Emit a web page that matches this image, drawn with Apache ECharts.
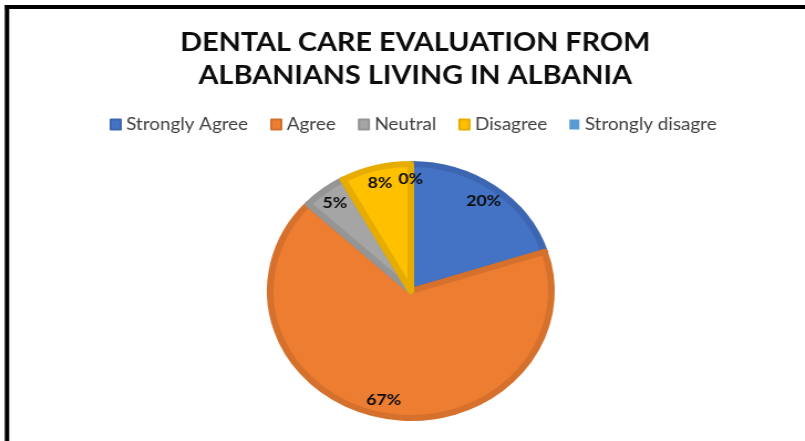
<!DOCTYPE html>
<html>
<head>
<meta charset="utf-8">
<script src="https://cdn.jsdelivr.net/npm/echarts@6/dist/echarts.min.js"></script>
<style>
  html, body { margin: 0; padding: 0; background: #fff; overflow: hidden; }
  #wrap { width: 805px; height: 441px; overflow: hidden; position: relative; }
  #chart { width: 727px; height: 441px; transform: scaleX(1.1073); transform-origin: 0 0; }
</style>
</head>
<body>
<div id="wrap"><div id="chart"></div></div>
<script>
// ---- data ----
const titleLines = ['DENTAL CARE EVALUATION FROM', 'ALBANIANS LIVING IN ALBANIA'];
const categories = ['Strongly Agree', 'Agree', 'Neutral', 'Disagree', 'Strongly disagre'];
const percents = [20, 67, 5, 8, 0];
const fillColors = ['#4472C4', '#ED7D31', '#A5A5A5', '#FFC000', '#5B9BD5'];
const edgeColors = ['#3C66B1', '#D5712C', '#959595', '#E6AD00', '#5290C8'];

const chart = echarts.init(document.getElementById('chart'), null, { renderer: 'canvas' });

const pieData = categories.map((name, i) => ({
  name: name,
  value: percents[i],
  itemStyle: {
    color: fillColors[i],
    borderColor: edgeColors[i],
    borderWidth: percents[i] > 0 ? 6 : 0
  }
}));
const labelData = categories.map((name, i) => ({ name: name, value: percents[i] }));

const cx = 371, cy = 291, R = 127;

chart.setOption({
  backgroundColor: '#ffffff',
  animation: false,
  title: {
    text: titleLines.join('\n'),
    left: 370,
    top: 21,
    textAlign: 'center',
    textStyle: {
      fontFamily: 'Lato',
      fontWeight: 'bold',
      fontSize: 26,
      lineHeight: 33,
      color: '#0d0d0d'
    }
  },
  legend: {
    data: categories,
    left: 94,
    top: 111,
    icon: 'rect',
    itemWidth: 9,
    itemHeight: 10,
    itemGap: 20,
    textStyle: { fontFamily: 'Lato', fontSize: 17, color: '#404040' },
    selectedMode: false
  },
  graphic: [
    { type: 'line', shape: { x1: 4.5, y1: 7, x2: 740, y2: 7 }, style: { stroke: '#000', lineWidth: 4 } },
    { type: 'line', shape: { x1: 6.3, y1: 5, x2: 6.3, y2: 445 }, style: { stroke: '#000', lineWidth: 4 } }
  ],
  series: [
    {
      type: 'pie',
      center: [cx, cy],
      radius: [0, R],
      startAngle: 90,
      clockwise: true,
      avoidLabelOverlap: false,
      label: { show: false },
      labelLine: { show: false },
      emphasis: { disabled: true },
      silent: true,
      data: pieData
    },
    {
      type: 'pie',
      center: [cx, cy],
      radius: [91, R],
      startAngle: 90,
      clockwise: true,
      avoidLabelOverlap: false,
      silent: true,
      emphasis: { disabled: true },
      itemStyle: { color: 'rgba(0,0,0,0)', borderWidth: 0 },
      label: {
        show: true,
        position: 'inside',
        formatter: '{c}%',
        fontFamily: 'Lato',
        fontWeight: 'bold',
        fontSize: 16,
        color: '#0d0d0d'
      },
      labelLine: { show: false },
      data: labelData
    }
  ]
});
</script>
</body>
</html>
